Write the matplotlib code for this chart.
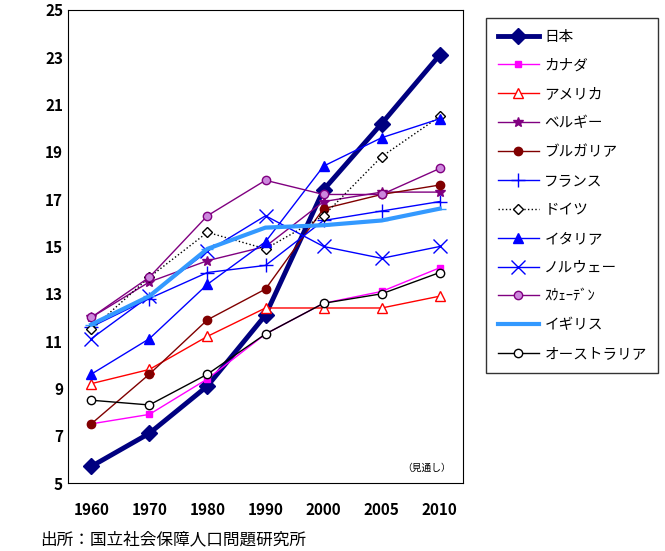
import matplotlib.pyplot as plt

plt.rcParams['font.family'] = ['Noto Sans CJK JP', 'DejaVu Sans']

years = ['1960', '1970', '1980', '1990', '2000', '2005', '2010']
japan = [5.7, 7.1, 9.1, 12.1, 17.4, 20.2, 23.1]
canada = [7.5, 7.9, 9.4, 11.3, 12.6, 13.1, 14.1]
usa = [9.2, 9.8, 11.2, 12.4, 12.4, 12.4, 12.9]
belgium = [12.0, 13.5, 14.4, 15.0, 16.9, 17.3, 17.3]
bulgaria = [7.5, 9.6, 11.9, 13.2, 16.6, 17.2, 17.6]
france = [11.6, 12.8, 13.9, 14.2, 16.1, 16.5, 16.9]
germany = [11.5, 13.7, 15.6, 14.9, 16.3, 18.8, 20.5]
italy = [9.6, 11.1, 13.4, 15.2, 18.4, 19.6, 20.4]
norway = [11.1, 12.9, 14.8, 16.3, 15.0, 14.5, 15.0]
sweden = [12.0, 13.7, 16.3, 17.8, 17.2, 17.2, 18.3]
uk = [11.7, 12.9, 14.9, 15.8, 15.9, 16.1, 16.6]
australia = [8.5, 8.3, 9.6, 11.3, 12.6, 13.0, 13.9]

fig = plt.figure(figsize=(6.65, 5.51), dpi=100)
ax = fig.add_axes([68/665, 1-483/551, 395/665, 473/551])
x = range(len(years))

ax.plot(x, japan, color='#000080', lw=3.5, marker='D', ms=8, label='日本')
ax.plot(x, canada, color='#ff00ff', lw=1, marker='s', ms=4, label='カナダ')
ax.plot(x, usa, color='#ff0000', lw=1, marker='^', ms=7, mfc='white', label='アメリカ')
ax.plot(x, belgium, color='#800080', lw=1, marker='*', ms=7, label='ベルギー')
ax.plot(x, bulgaria, color='#800000', lw=1, marker='o', ms=6, label='ブルガリア')
ax.plot(x, france, color='#0000ff', lw=1, marker='+', ms=10, label='フランス')
ax.plot(x, germany, color='#000000', lw=1, ls=':', marker='D', ms=5, mfc='white', label='ドイツ')
ax.plot(x, italy, color='#0000ff', lw=1, marker='^', ms=7, label='イタリア')
ax.plot(x, norway, color='#0000ff', lw=1, marker='x', ms=10, label='ノルウェー')
ax.plot(x, sweden, color='#800080', lw=1, marker='o', ms=6, mfc='#cc88dd', label='ｽｳｪｰﾃﾞﾝ')
ax.plot(x, uk, color='#3399ff', lw=3, marker='_', ms=8, label='イギリス')
ax.plot(x, australia, color='#000000', lw=1, marker='o', ms=6, mfc='white', label='オーストラリア')

ax.set_xlim(-0.4, 6.4)
ax.set_ylim(5, 25)
ax.set_yticks(range(5, 26, 2))
ax.set_xticks(list(x))
ax.set_xticklabels(years, fontweight='bold', fontsize=11)
for t in ax.get_yticklabels():
    t.set_fontweight('bold')
    t.set_fontsize(11)
ax.tick_params(direction='in', length=0)
ax.tick_params(axis='x', pad=14)
ax.text(6.2, 5.5, '（見通し）', fontsize=7, ha='right')

leg = fig.legend(loc='upper left', bbox_to_anchor=(486/665, 1-18/551), frameon=True,
                 fancybox=False, edgecolor='black', fontsize=10.5, handlelength=2.8,
                 handletextpad=0.4, labelspacing=1.02, borderpad=0.8, borderaxespad=0)
fig.text(40/665, 1-540/551, '出所：国立社会保障人口問題研究所', fontsize=12, va='center')
fig.savefig('out.png', dpi=100)
